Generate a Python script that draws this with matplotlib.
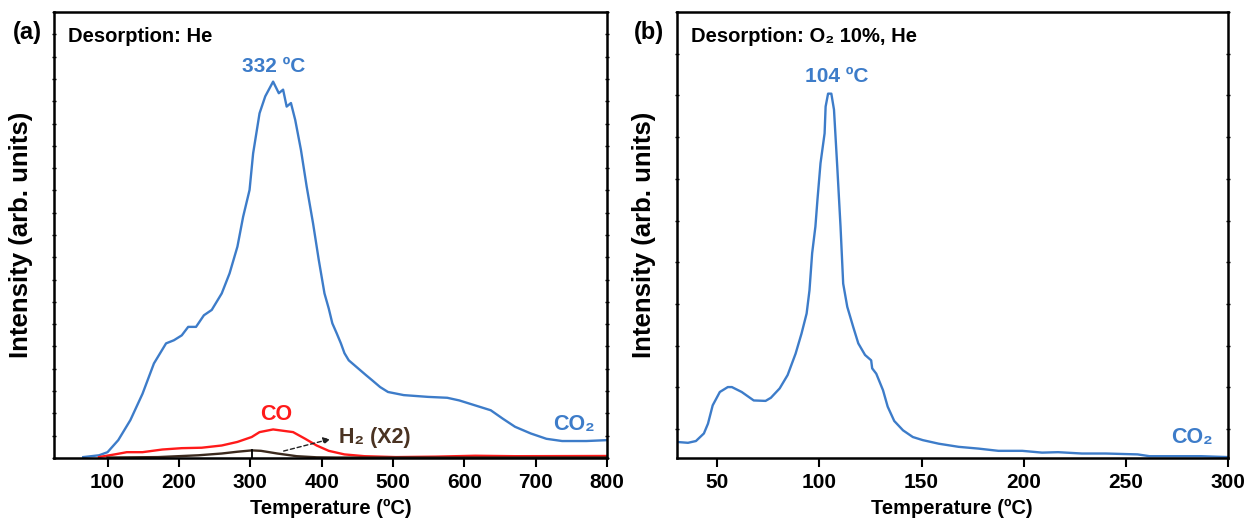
import numpy as np
import matplotlib
matplotlib.use('Agg')
import matplotlib.pyplot as plt

plt.rcParams['font.family'] = ['Liberation Sans', 'DejaVu Sans']
plt.rcParams['font.weight'] = 'bold'

BLUE = '#3d7cc9'
RED = '#ff1a1a'
BROWN = '#3b2a1e'

# panel (a): desorption in He
a_co2_t = [66, 88, 100, 115, 132, 149, 165, 182, 193, 204, 213, 224, 235, 246, 260, 271,
           282, 290, 299, 304, 313, 321, 332, 340, 346, 351, 357, 363, 371, 379, 388, 396,
           404, 410, 415, 421, 427, 432, 438, 446, 454, 462, 471, 482, 493, 515, 549, 576,
           593, 615, 637, 654, 671, 693, 715, 737, 771, 800]
a_co2_y = [0.2, 0.6, 1.3, 4.0, 8.5, 14.4, 21.2, 25.7, 26.4, 27.5, 29.4, 29.4, 32.0, 33.2, 36.9, 41.4,
           47.4, 54.1, 60.1, 68.3, 77.3, 81.1, 84.4, 81.8, 82.6, 78.8, 79.6, 75.8, 69.1, 60.9, 52.6, 44.4,
           36.9, 33.5, 30.2, 28.0, 25.7, 23.5, 21.9, 20.8, 19.7, 18.6, 17.4, 15.9, 14.8, 14.1, 13.7, 13.5,
           12.9, 11.8, 10.7, 8.8, 7.0, 5.5, 4.3, 3.8, 3.8, 4.0]

a_co_t = [88, 110, 127, 149, 177, 204, 232, 260, 282, 302, 313, 332, 360, 377, 393, 410,
          432, 460, 504, 560, 615, 671, 800]
a_co_y = [0.2, 0.8, 1.3, 1.3, 1.9, 2.2, 2.3, 2.8, 3.6, 4.7, 5.8, 6.4, 5.8, 4.3, 2.8, 1.6,
          0.8, 0.4, 0.2, 0.3, 0.5, 0.4, 0.45]

a_h2_t = [100, 171, 227, 260, 282, 302, 315, 338, 365, 393, 420, 500, 600, 700, 800]
a_h2_y = [0.1, 0.2, 0.6, 1.0, 1.4, 1.7, 1.6, 1.0, 0.4, 0.15, 0.1, 0.1, 0.1, 0.1, 0.1]

# panel (b): desorption in O2 10%, He
b_co2_t = [30, 35.6, 39.5, 43.4, 45.4, 47.7, 51.2, 55.1, 57.1, 61.9, 67.8, 73.6, 76.2, 80.5,
           84.4, 88.3, 91.2, 93.7, 95.1, 96.4, 98.0, 99.0, 100.5, 102.5, 103.0, 104.2, 105.8,
           107.1, 108.7, 110.3, 111.6, 113.6, 116.5, 119.0, 122.3, 125.3, 125.8, 127.8, 131.1,
           133.4, 136.6, 140.9, 145.7, 150.6, 158.4, 168.1, 177.9, 187.6, 199.3, 209.0, 216.8,
           228.5, 240.2, 255.8, 261.6, 275.3, 287.0, 300]
b_co2_y = [3.6, 3.4, 3.8, 5.5, 7.7, 11.8, 14.8, 15.9, 15.9, 14.8, 12.9, 12.8, 13.5, 15.6,
           18.6, 23.4, 27.9, 32.4, 37.6, 45.9, 51.9, 57.9, 66.1, 72.8, 78.8, 81.7, 81.7,
           78.1, 65.3, 51.9, 39.1, 33.9, 29.4, 25.7, 23.1, 21.9, 20.1, 18.9, 15.2,
           11.5, 8.3, 6.2, 4.7, 4.0, 3.2, 2.5, 2.1, 1.6, 1.6, 1.2, 1.3,
           1.0, 1.0, 0.8, 0.4, 0.4, 0.4, 0.2]

a_xticks = [100, 200, 300, 400, 500, 600, 700, 800]
b_xticks = [50, 100, 150, 200, 250, 300]

fig = plt.figure(figsize=(12.45, 5.24), dpi=100)
ax1 = fig.add_axes([0.0434, 0.126, 0.4442, 0.851])
ax2 = fig.add_axes([0.5434, 0.126, 0.4429, 0.851])


def style_axes(ax, xlim, xticks, yticks):
    ax.set_xlim(*xlim)
    ax.set_ylim(0, 100)
    ax.set_xticks(xticks)
    ax.set_yticks(yticks)
    ax.set_yticklabels([])
    for s in ax.spines.values():
        s.set_linewidth(1.8)
    ax.tick_params(axis='x', direction='out', length=6.5, width=1.5, labelsize=15, pad=4)
    ax.tick_params(axis='y', direction='inout', length=3, width=1, left=True, right=True)
    for lab in ax.get_xticklabels():
        lab.set_fontweight('bold')
    ax.set_xlabel('Temperature (ºC)', fontsize=14.5, fontweight='bold', labelpad=5)
    ax.set_ylabel('Intensity (arb. units)', fontsize=18.5, fontweight='bold', labelpad=10)


# (a)
ax1.plot(a_co2_t, a_co2_y, color=BLUE, lw=1.7)
ax1.plot(a_co_t, a_co_y, color=RED, lw=1.7)
ax1.plot(a_h2_t, a_h2_y, color=BROWN, lw=1.7)
style_axes(ax1, (25, 800), a_xticks, np.arange(0, 100.1, 5))
ax1.text(0.025, 0.946, 'Desorption: He', transform=ax1.transAxes, fontsize=14.5,
         fontweight='bold', va='center', ha='left')
ax1.text(333, 87.7, '332 ºC', color=BLUE, fontsize=15, fontweight='bold', ha='center', va='center')
ax1.text(336, 9.75, 'CO', color=RED, fontsize=15.5, fontweight='bold', ha='center', va='center')
ax1.text(753, 7.5, 'CO₂', color=BLUE, fontsize=15.5, fontweight='bold', ha='center', va='center')
ax1.text(425, 4.7, 'H₂ (X2)', color='#4a3322', fontsize=15.5, fontweight='bold',
         ha='left', va='center')
ax1.annotate('', xy=(416, 4.4), xytext=(343, 1.4),
             arrowprops=dict(arrowstyle='-|>', linestyle=(0, (3, 2)), color='#222222',
                             lw=1.0, mutation_scale=10))
ax1.plot([302, 302], [0, 1.9], color='black', lw=1.3)

# (b)
ax2.plot(b_co2_t, b_co2_y, color=BLUE, lw=1.7)
style_axes(ax2, (30, 300), b_xticks, np.arange(100, 0, -9.35))
ax2.text(0.027, 0.946, 'Desorption: O₂ 10%, He', transform=ax2.transAxes,
         fontsize=14.5, fontweight='bold', va='center', ha='left')
ax2.text(108.6, 85.5, '104 ºC', color=BLUE, fontsize=15, fontweight='bold', ha='center', va='center')
ax2.text(282.3, 4.6, 'CO₂', color=BLUE, fontsize=15.5, fontweight='bold', ha='center', va='center')

fig.text(27 / 1245, 1 - 32 / 524, '(a)', fontsize=17, fontweight='bold', ha='center', va='center')
fig.text(649 / 1245, 1 - 32 / 524, '(b)', fontsize=17, fontweight='bold', ha='center', va='center')

fig.savefig('out.png', dpi=100)
